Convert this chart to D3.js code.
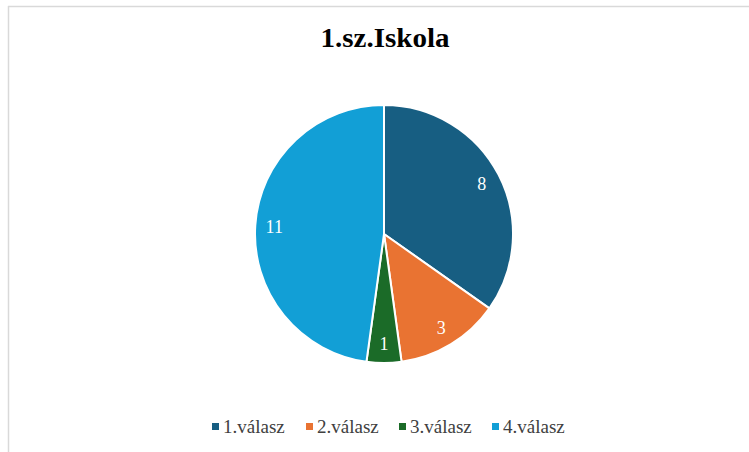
<!DOCTYPE html>
<html>
<head>
<meta charset="utf-8">
<script src="https://cdn.jsdelivr.net/npm/d3@7"></script>
<style>
  body { margin: 0; background: #fff; }
  svg { display: block; font-family: "Liberation Serif", "Times New Roman", serif; }
</style>
</head>
<body>
<svg id="chart" width="749" height="452"></svg>
<script>
const categories = ["1.válasz", "2.válasz", "3.válasz", "4.válasz"];
const values = [8, 3, 1, 11];
const colors = ["#175e82", "#e97332", "#1b6b28", "#129fd6"];
const title = "1.sz.Iskola";

const svg = d3.select("#chart");
const width = +svg.attr("width");

// frame lines (top + left only visible)
svg.append("line").attr("x1", 8).attr("x2", width).attr("y1", 6.5).attr("y2", 6.5)
  .attr("stroke", "#d9d9d9").attr("stroke-width", 1.5);
svg.append("line").attr("x1", 8.5).attr("x2", 8.5).attr("y1", 6).attr("y2", 452)
  .attr("stroke", "#d9d9d9").attr("stroke-width", 1.5);

svg.append("text")
  .attr("x", 385).attr("y", 47)
  .attr("text-anchor", "middle")
  .attr("font-size", "27px")
  .attr("font-weight", "bold")
  .attr("fill", "#000")
  .attr("textLength", 129)
  .attr("lengthAdjust", "spacingAndGlyphs")
  .text(title);

const cx = 384, cy = 234, r = 129;
const data = categories.map((c, i) => ({ cat: c, value: values[i], color: colors[i] }));
const pie = d3.pie().sort(null).value(d => d.value);
const arc = d3.arc().innerRadius(0).outerRadius(r);
const labelArc = d3.arc().innerRadius(110).outerRadius(110);

const g = svg.append("g").attr("transform", `translate(${cx},${cy})`);
const arcs = pie(data);

g.selectAll("path")
  .data(arcs)
  .join("path")
  .attr("d", arc)
  .attr("fill", d => d.data.color)
  .attr("stroke", "#fff")
  .attr("stroke-width", 2)
  .attr("stroke-linejoin", "round");

g.selectAll("text")
  .data(arcs)
  .join("text")
  .attr("transform", d => `translate(${labelArc.centroid(d)})`)
  .attr("text-anchor", "middle")
  .attr("dy", "0.35em")
  .attr("fill", "#fff")
  .attr("font-size", "18px")
  .text(d => d.data.value);

// legend
const legendX = [212, 306, 399, 492];
const legend = svg.append("g");
data.forEach((d, i) => {
  legend.append("rect")
    .attr("x", legendX[i]).attr("y", 423)
    .attr("width", 7).attr("height", 7)
    .attr("fill", d.color);
  legend.append("text")
    .attr("x", legendX[i] + 11).attr("y", 433)
    .attr("font-size", "19px")
    .attr("fill", "#404040")
    .text(d.cat);
});
</script>
</body>
</html>
